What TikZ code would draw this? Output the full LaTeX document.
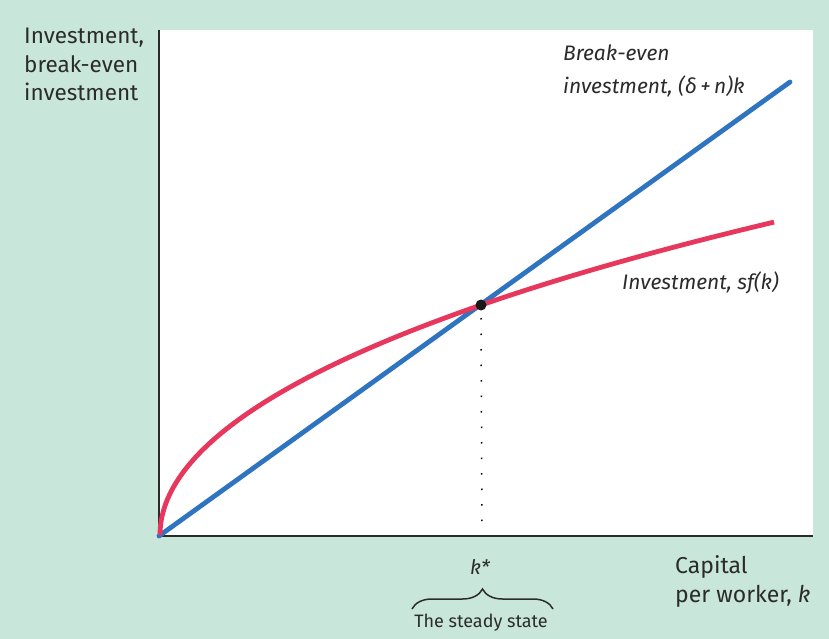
\documentclass[tikz,border=0pt]{standalone}
\usepackage{fontspec}
\setmainfont{Fira Sans}
\usetikzlibrary{decorations.pathreplacing}
\definecolor{bggreen}{HTML}{C9E6DB}
\definecolor{lineblue}{HTML}{2F74C0}
\definecolor{curvered}{HTML}{E8375C}
\definecolor{axisgray}{HTML}{2A2A2A}
\definecolor{txt}{HTML}{2B2B2B}
\begin{document}
\begin{tikzpicture}[x=1pt,y=-1pt,
  lbl/.style={text=txt, align=left, inner sep=0pt},
  curve/.style={line width=4.8pt}]
\useasboundingbox (0,0) rectangle (829,639);
\fill[bggreen] (0,0) rectangle (829,639);
\fill[white] (158,30) rectangle (813,537);
% axes
\coordinate (O) at (159,536);
\coordinate (ytop) at (159,30);
\coordinate (xend) at (813,536);
\draw[axisgray, line width=2.4pt] (ytop) -- (O) -- (xend);
% curves
\coordinate (ss) at (481,305);
\coordinate (bend) at (790,82);
\draw[lineblue, curve, line cap=round] (O) -- (bend);
\draw[curvered, curve] plot[domain=0:24.78, samples=100, smooth] ({160+\x*\x},{535-13.058*\x+0.000696*\x*\x*\x});
% steady state
\coordinate (kaxis) at (482,532);
\draw[black, line width=1.5pt, dash pattern=on 1.5pt off 14pt] (ss) ++(0,13) -- (kaxis);
\node[circle, fill=black!90, minimum size=11pt, inner sep=0pt] (dot) at (ss) {};
% labels
\node[lbl, anchor=north west, font=\fontsize{22.5}{28.5}\selectfont] (ylab) at (24,28) {Investment,\\break-even\\investment};
\node[lbl, anchor=north west, font=\fontsize{21}{33}\selectfont\itshape] (blab) at (563,45) {Break-even\\investment, (δ\,+\,n)k};
\node[lbl, anchor=west, font=\fontsize{21}{25}\selectfont\itshape] (rlab) at (622,283) {Investment, sf(k)};
\node[lbl, anchor=north west, font=\fontsize{23}{29.5}\selectfont] (xlab) at (675,555) {Capital\\per worker, \textit{k}};
\node[lbl, font=\fontsize{20}{22}\selectfont\itshape] (kstar) at (480,567) {k*};
\coordinate (brL) at (412,609);
\coordinate (brR) at (553,609);
\draw[txt, line width=1.5pt, decorate, decoration={brace, amplitude=20pt}] (brL) -- (brR);
\node[lbl, font=\fontsize{18}{20}\selectfont] (sslab) at (481,623) {The steady state};
\end{tikzpicture}
\end{document}
